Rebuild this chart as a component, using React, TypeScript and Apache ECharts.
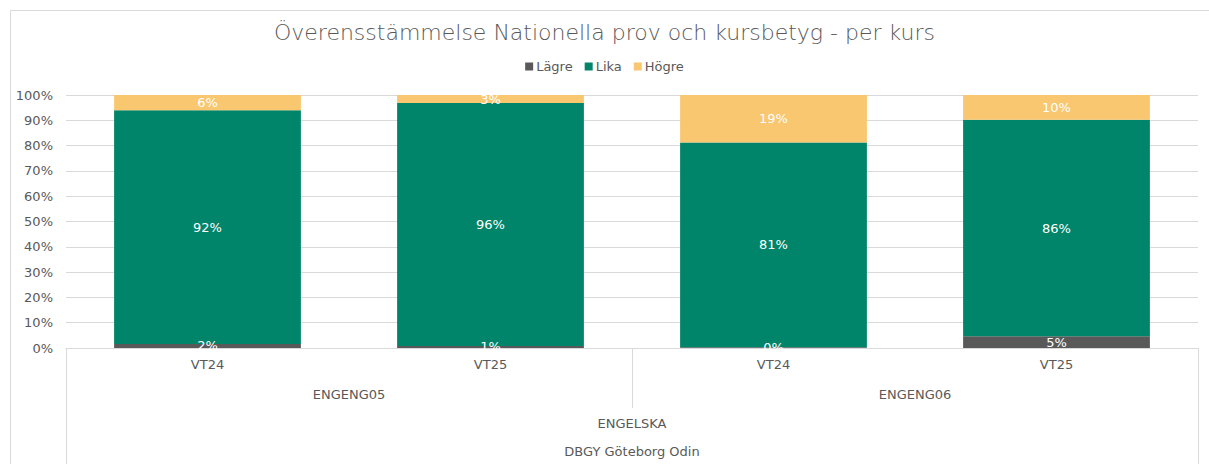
import React, { useEffect, useRef } from "react";
import * as echarts from "echarts";

const terms = ["VT24", "VT25", "VT24", "VT25"];
const courses = ["ENGENG05", "ENGENG06"];
const subjects = ["ENGELSKA"];
const schools = ["DBGY Göteborg Odin"];
const seriesNames = ["Lägre", "Lika", "Högre"];
const lagre = [1.6, 0.8, 0.3, 4.6];
const lika = [92.4, 96.0, 80.9, 85.6];
const hogre = [6.0, 3.2, 18.8, 9.8];
const colors = ["#595959", "#00846A", "#F8C76F"];
const titleText = "Överensstämmelse Nationella prov och kursbetyg - per kurs";

const FONT = "'Century Gothic', 'DejaVu Sans', sans-serif";
const TXT = "#595959";

export default function App() {
  const ref = useRef<HTMLDivElement>(null);
  useEffect(() => {
    if (!ref.current) return;
    const chart = echarts.init(ref.current, undefined, { renderer: "svg" });
    const mkSeries = (name: string, data: number[], color: string) => ({
      name,
      type: "bar",
      stack: "total",
      data,
      barCategoryGap: "34%",
      itemStyle: { color },
      label: {
        show: true,
        position: "inside",
        color: "#ffffff",
        fontSize: 13,
        fontFamily: FONT,
        formatter: (p: any) => Math.round(p.value) + "%",
      },
    });
    chart.setOption({
      animation: false,
      backgroundColor: "#ffffff",
      textStyle: { fontFamily: FONT },
      title: {
        text: titleText,
        left: "center",
        top: 16,
        textStyle: { fontFamily: FONT, fontSize: 22, fontWeight: 300, color: TXT },
      },
      legend: {
        data: seriesNames,
        top: 55,
        left: "center",
        itemWidth: 8,
        itemHeight: 8,
        itemGap: 12,
        icon: "rect",
        textStyle: { fontFamily: FONT, fontSize: 13, color: TXT, padding: [0, 0, 0, -2] },
      },
      grid: { left: 66, right: 11, top: 95, bottom: 116 },
      yAxis: {
        type: "value",
        min: 0,
        max: 100,
        interval: 10,
        axisLine: { show: false },
        axisTick: { show: false },
        axisLabel: {
          formatter: "{value}%",
          color: TXT,
          fontSize: 13,
          fontFamily: FONT,
          margin: 13,
        },
        splitLine: { lineStyle: { color: "#d9d9d9", width: 1 } },
      },
      xAxis: [
        {
          type: "category",
          data: terms,
          position: "bottom",
          axisLine: { show: true, lineStyle: { color: "#d9d9d9" } },
          axisTick: { show: false },
          axisLabel: { color: TXT, fontSize: 13, fontFamily: FONT, margin: 10 },
        },
        {
          type: "category",
          data: courses,
          position: "bottom",
          axisLine: { show: false },
          axisTick: { show: true, length: 60, lineStyle: { color: "#d9d9d9" } },
          axisLabel: { color: TXT, fontSize: 13, fontFamily: FONT, margin: 40 },
        },
        {
          type: "category",
          data: subjects,
          position: "bottom",
          axisLine: { show: false },
          axisTick: { show: true, length: 120, lineStyle: { color: "#d9d9d9" } },
          axisLabel: { color: TXT, fontSize: 13, fontFamily: FONT, margin: 69 },
        },
        {
          type: "category",
          data: schools,
          position: "bottom",
          axisLine: { show: false },
          axisTick: { show: false },
          axisLabel: { color: TXT, fontSize: 13, fontFamily: FONT, margin: 97 },
        },
      ],
      graphic: [
        {
          type: "rect",
          left: 8,
          top: 8,
          shape: { width: 1205, height: 470 },
          style: { fill: "none", stroke: "#d9d9d9", lineWidth: 1 },
          silent: true,
          z: -1,
        },
      ],
      series: [
        mkSeries(seriesNames[0], lagre, colors[0]),
        mkSeries(seriesNames[1], lika, colors[1]),
        mkSeries(seriesNames[2], hogre, colors[2]),
      ],
    });
    return () => chart.dispose();
  }, []);
  return (
    <div
      ref={ref}
      style={{ position: "fixed", left: 0, top: 0, width: 1209, height: 464 }}
    />
  );
}
